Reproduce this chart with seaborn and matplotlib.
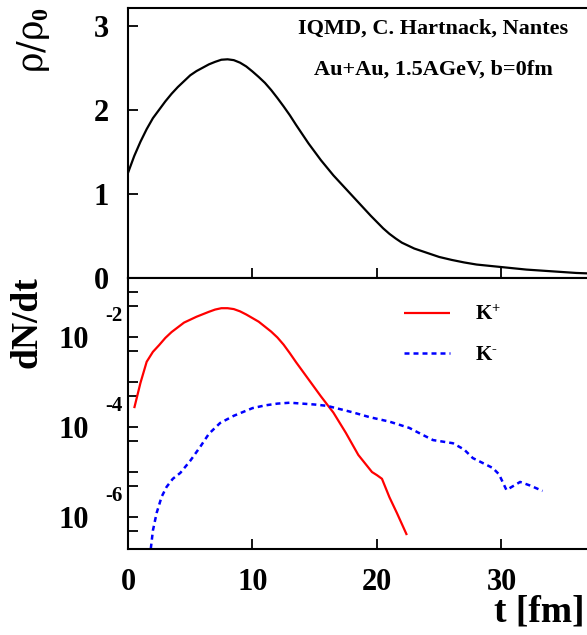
import numpy as np
import pandas as pd
import matplotlib
matplotlib.use("Agg")
import matplotlib.pyplot as plt
import seaborn as sns
from matplotlib.ticker import FixedLocator, FixedFormatter, NullFormatter

# ---------------- data ----------------
t_rho = [0, 0.5, 1, 1.5, 2, 2.5, 3, 3.5, 4, 4.5, 5, 5.5, 6, 6.5, 7, 7.5, 8, 8.5, 9,
         9.5, 10, 10.5, 11, 11.5, 12, 12.5, 13, 13.5, 14, 14.5, 15, 15.5, 16, 16.5,
         17, 17.5, 18, 18.5, 19, 19.5, 20, 20.5, 21, 21.5, 22, 23, 24, 25, 26, 27,
         28, 29, 30, 31, 32, 33, 34, 35, 36, 36.9]
rho = [1.25, 1.45, 1.62, 1.77, 1.90, 2.00, 2.10, 2.19, 2.27, 2.34, 2.41, 2.46, 2.50,
       2.54, 2.57, 2.595, 2.60, 2.59, 2.56, 2.515, 2.455, 2.39, 2.32, 2.235, 2.14,
       2.04, 1.935, 1.82, 1.71, 1.60, 1.50, 1.40, 1.31, 1.22, 1.14, 1.06, 0.98,
       0.90, 0.82, 0.74, 0.665, 0.59, 0.525, 0.47, 0.42, 0.35, 0.30, 0.25, 0.215,
       0.185, 0.16, 0.145, 0.13, 0.115, 0.10, 0.09, 0.08, 0.07, 0.06, 0.055]

t_kplus = [0.5, 1.0, 1.5, 2.0, 2.5, 3.0, 3.5, 4.5, 5.5, 6.5, 7.0, 7.5, 8.0, 8.5,
           9.0, 9.5, 10.5, 11.5, 12.0, 12.5, 13.0, 13.5, 14.5, 15.5, 16.5, 17.5,
           18.5, 19.6, 20.0, 20.4, 21.0, 21.6, 22.4]
log_kplus = [-3.58, -3.02, -2.55, -2.33, -2.18, -2.02, -1.89, -1.68, -1.55, -1.44,
             -1.39, -1.36, -1.36, -1.38, -1.43, -1.50, -1.66, -1.88, -2.01, -2.17,
             -2.36, -2.56, -2.94, -3.32, -3.68, -4.13, -4.62, -5.00, -5.07, -5.15,
             -5.56, -5.91, -6.40]

t_kminus = [1.75, 2.0, 2.3, 2.7, 3.1, 3.6, 4.2, 5.0, 5.8, 6.5, 7.4, 8.5, 10.0, 11.0,
            12.0, 13.0, 14.0, 15.0, 16.0, 17.0, 18.0, 19.4, 21.0, 22.6, 23.5, 24.5,
            26.1, 27.0, 27.7, 29.3, 29.8, 30.4, 31.5, 32.3, 33.3]
log_kminus = [-6.90, -6.30, -5.91, -5.55, -5.33, -5.15, -5.02, -4.75, -4.44, -4.15,
              -3.91, -3.75, -3.58, -3.52, -3.48, -3.46, -3.48, -3.50, -3.53, -3.60,
              -3.67, -3.78, -3.88, -4.02, -4.15, -4.29, -4.36, -4.50, -4.69, -4.91,
              -5.05, -5.40, -5.22, -5.30, -5.42]

top_yticks = [0, 1, 2, 3]
x_ticks = [0, 10, 20, 30]
log_major_exp = [-1, -2, -3, -4, -5, -6, -7]
labelled_exp = [-2, -4, -6]
series_names = ["K$^{+}$", "K$^{\u2010}$"]
annot_lines = ["IQMD, C. Hartnack, Nantes", "Au+Au, 1.5AGeV, b=0fm"]

df_rho = pd.DataFrame({"t": t_rho, "rho": rho})
df_kp = pd.DataFrame({"t": t_kplus, "dndt": 10.0 ** np.array(log_kplus)})
df_km = pd.DataFrame({"t": t_kminus, "dndt": 10.0 ** np.array(log_kminus)})

# ---------------- style ----------------
sns.set_style("ticks")
plt.rcParams["font.family"] = ["Liberation Serif", "DejaVu Serif"]
plt.rcParams["font.weight"] = "bold"
plt.rcParams["mathtext.fontset"] = "custom"
plt.rcParams["mathtext.rm"] = "Liberation Serif:bold"
plt.rcParams["mathtext.bf"] = "Liberation Serif:bold"
plt.rcParams["mathtext.it"] = "Liberation Serif:bold"
plt.rcParams["mathtext.default"] = "rm"
plt.rcParams["axes.linewidth"] = 1.5
for k in ["text.color", "axes.labelcolor", "xtick.color", "ytick.color",
          "axes.edgecolor"]:
    plt.rcParams[k] = "black"
plt.rcParams["lines.solid_joinstyle"] = "round"
plt.rcParams["lines.solid_capstyle"] = "butt"

W, H = 587, 635
fig = plt.figure(figsize=(W / 100, H / 100), dpi=100)

def fx(px):
    return px / W

def fy(py):
    return 1 - py / H

left, right_px = 128, 587
ax1 = fig.add_axes([fx(left), fy(278), fx(right_px - left), (278 - 8) / H])
ax2 = fig.add_axes([fx(left), fy(549), fx(right_px - left), (549 - 278) / H])

xmax = 36.87
axw = right_px - left

# ---- top panel ----
sns.lineplot(data=df_rho, x="t", y="rho", ax=ax1, color="black", lw=1.6,
             estimator=None, sort=False)
ax1.set_xlim(0, xmax)
ax1.set_ylim(0, 3.21)
ax1.set_xticks(x_ticks)
ax1.set_xticklabels([])
ax1.set_yticks(top_yticks)
ax1.set_yticklabels([str(v) for v in top_yticks])
ax1.tick_params(axis="both", direction="in", length=7.5, width=1.3,
                labelsize=22, pad=14, colors="black")
ax1.tick_params(axis="x", bottom=True, top=False)
ax1.spines["right"].set_visible(False)
ax1.set_xlabel("")
ax1.set_ylabel("")
for lbl in ax1.get_yticklabels():
    lbl.set_fontweight("bold")

ax1.text((433 - left) / axw, (278 - 29) / 270, annot_lines[0],
         transform=ax1.transAxes, ha="center", va="center", fontsize=16,
         fontweight="bold")
ax1.text((433 - left) / axw, (278 - 70) / 270, annot_lines[1],
         transform=ax1.transAxes, ha="center", va="center", fontsize=16,
         fontweight="bold")

# ---- bottom panel ----
sns.lineplot(data=df_kp, x="t", y="dndt", ax=ax2, color="#ff0000", lw=1.6,
             estimator=None, sort=False, label=series_names[0])
sns.lineplot(data=df_km, x="t", y="dndt", ax=ax2, color="#0000ff", lw=1.8,
             estimator=None, sort=False, label=series_names[1],
             linestyle=(0, (2.0, 1.6)))
ax2.set_yscale("log")
ax2.set_xlim(0, xmax)
ax2.set_ylim(10 ** -6.71, 10 ** -0.689)
ax2.set_xticks(x_ticks)
ax2.set_xticklabels([str(v) for v in x_ticks])
major_vals = [10.0 ** e for e in log_major_exp]
ax2.yaxis.set_major_locator(FixedLocator(major_vals))
ax2.yaxis.set_major_formatter(FixedFormatter(
    ["10" if e in labelled_exp else "" for e in log_major_exp]))
ax2.yaxis.set_minor_locator(FixedLocator([5 * 10.0 ** (e - 1) for e in log_major_exp]))
ax2.yaxis.set_minor_formatter(NullFormatter())
ax2.tick_params(axis="both", which="both", direction="in", length=7.5, width=1.3,
                labelsize=22, colors="black")
ax2.tick_params(axis="y", which="major", pad=28)
ax2.tick_params(axis="x", which="major", pad=14, top=False)
ax2.spines["right"].set_visible(False)
ax2.set_xlabel("")
ax2.set_ylabel("")
for lbl in ax2.get_yticklabels() + ax2.get_xticklabels():
    lbl.set_fontweight("bold")

for e in labelled_exp:
    ax2.annotate("-" + str(-e), xy=(0, 10.0 ** e),
                 xycoords=("axes fraction", "data"),
                 xytext=(-4.0, 15), textcoords="offset points",
                 ha="right", va="center", fontsize=15, fontweight="bold")

leg = ax2.legend(loc="upper left",
                 bbox_to_anchor=((404 - left) / axw, (549 - 305) / 271),
                 frameon=False, fontsize=15, handlelength=2.2, handletextpad=1.2,
                 labelspacing=0.98, borderaxespad=0, borderpad=0)
for txt in leg.get_texts():
    txt.set_fontweight("bold")

# ---- axis titles ----
fig.text(fx(34), fy(7), r"$\mathregular{\rho/\rho}_{\mathbf{0}}$", rotation=90,
         ha="center", va="top", fontsize=25, fontweight="normal",
         family=["DejaVu Serif"])
fig.text(fx(27), fy(276), "dN/dt", rotation=90, ha="center", va="top",
         fontsize=27, fontweight="bold")
fig.text(fx(585), fy(612), "t [fm]", ha="right", va="center", fontsize=27,
         fontweight="bold")

fig.savefig("out.png", dpi=100)
